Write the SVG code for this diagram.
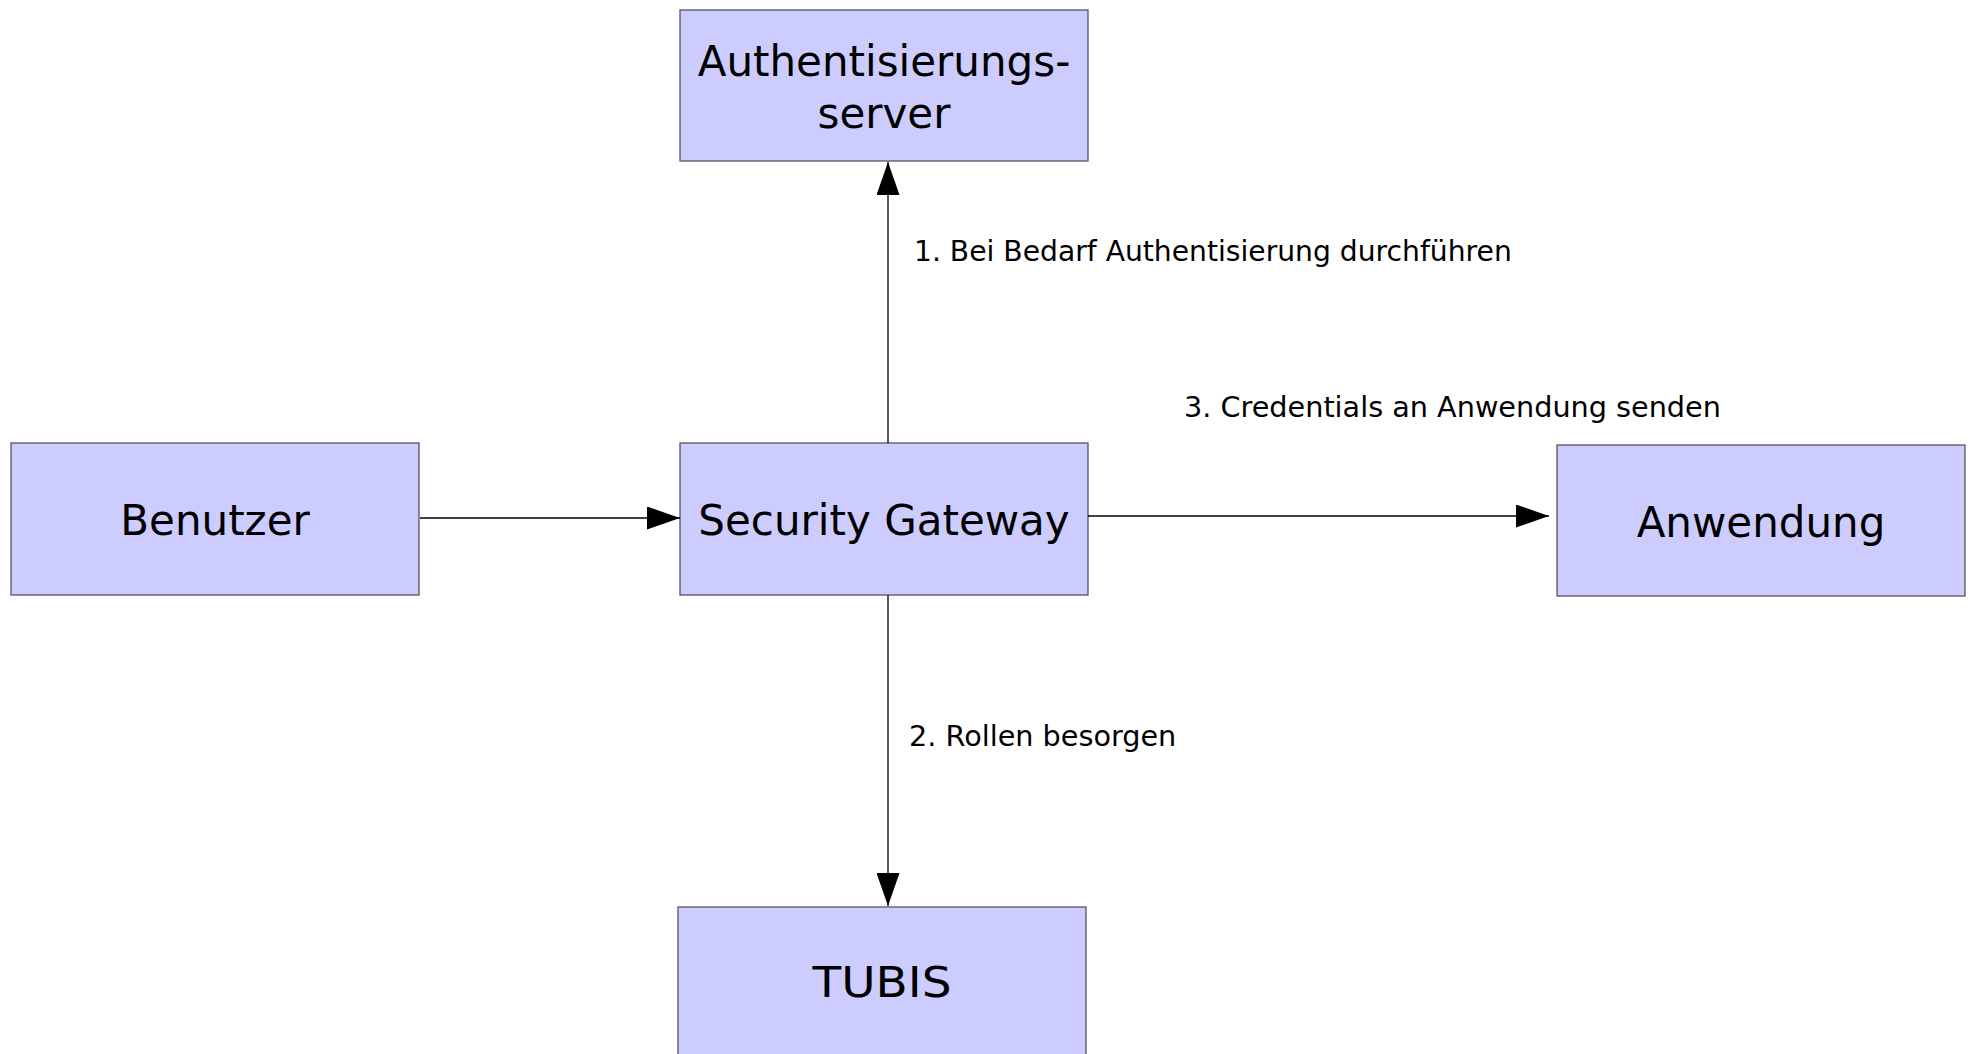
<svg xmlns="http://www.w3.org/2000/svg" width="1971" height="1054" viewBox="0 0 1971 1054">
<style>
.box{fill:#ccccff;stroke:#555566;stroke-width:1.3}
.bt{font-family:"DejaVu Sans",sans-serif;font-size:42px;fill:#000;text-anchor:middle}
.lbl{font-family:"DejaVu Sans",sans-serif;font-size:28.7px;fill:#000}
.con{stroke:#000;stroke-width:1.3;fill:none;marker-end:url(#ah)}
</style>
<defs>
<marker id="ah" markerUnits="userSpaceOnUse" markerWidth="34" markerHeight="23" refX="33" refY="11.5" orient="auto">
<path d="M0,0 L33,11.5 L0,23 Z" fill="#000"/>
</marker>
</defs>
<rect width="1971" height="1054" fill="#fff"/>
<g id="auth"><rect class="box" x="680" y="10" width="408" height="151"/><text class="bt" x="884" y="76">Authentisierungs-</text><text class="bt" x="884" y="128">server</text></g>
<g id="benutzer"><rect class="box" x="11" y="443" width="408" height="152"/><text class="bt" x="215" y="535">Benutzer</text></g>
<g id="gateway"><rect class="box" x="680" y="443" width="408" height="152"/><text class="bt" x="884" y="535">Security Gateway</text></g>
<g id="anwendung"><rect class="box" x="1557" y="445" width="408" height="151"/><text class="bt" x="1761" y="537">Anwendung</text></g>
<g id="tubis"><rect class="box" x="678" y="907" width="408" height="160"/><text class="bt" x="882" y="997" textLength="139" lengthAdjust="spacingAndGlyphs">TUBIS</text></g>
<g id="connectors">
<line class="con" x1="420" y1="518" x2="680" y2="518"/>
<line class="con" x1="1088" y1="516" x2="1549" y2="516"/>
<line class="con" x1="888" y1="443" x2="888" y2="162"/>
<line class="con" x1="888" y1="595" x2="888" y2="906"/>
<text class="lbl" x="914" y="261" style="font-size:28.2px">1. Bei Bedarf Authentisierung durchführen</text>
<text class="lbl" x="1184" y="417">3. Credentials an Anwendung senden</text>
<text class="lbl" x="909" y="746">2. Rollen besorgen</text>
</g>
</svg>
